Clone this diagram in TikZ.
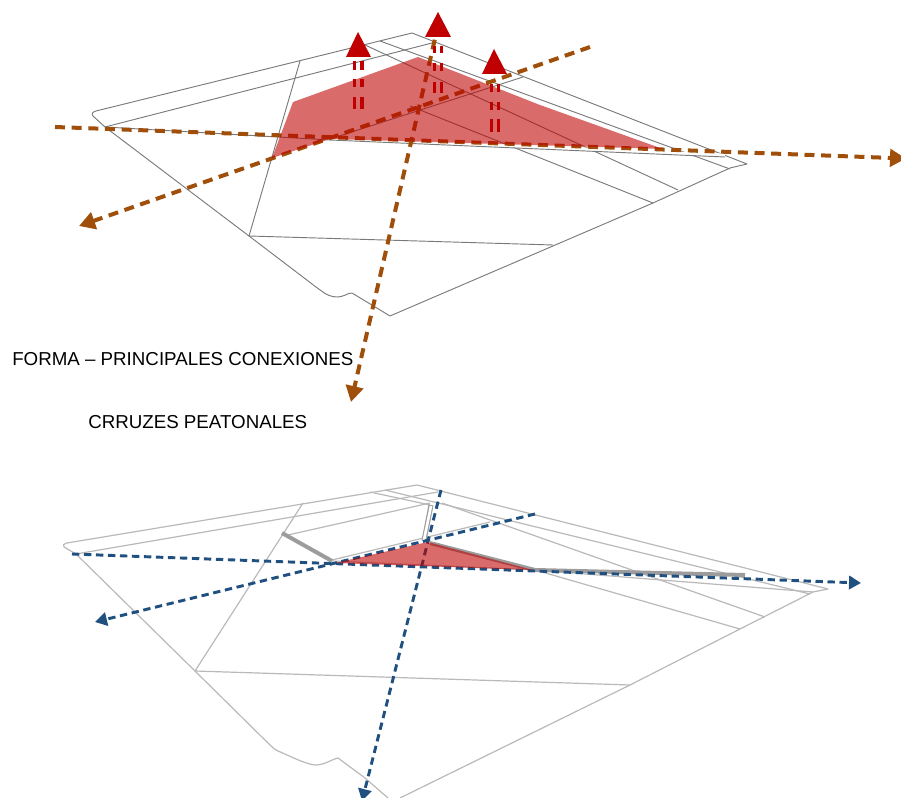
\documentclass[tikz,border=0pt]{standalone}
\usepackage{fontspec}
\setmainfont{Liberation Sans}
\usetikzlibrary{arrows.meta}
\definecolor{brownarrow}{HTML}{A04F0A}
\definecolor{bluearrow}{HTML}{1F5080}
\definecolor{redmark}{HTML}{C00000}
\definecolor{planA}{HTML}{7A7A7A}
\definecolor{planB}{HTML}{B9B9B9}
\definecolor{roadgrey}{HTML}{9C9C9C}
\tikzset{
  planone/.style={draw=planA,line width=0.7pt,line join=round},
  plantwo/.style={draw=planB,line width=0.9pt,line join=round},
  brownflow/.style={draw=brownarrow,line width=3pt,dash pattern=on 7.5pt off 5pt,-{Triangle[length=12pt,width=13pt,fill=brownarrow]}},
  blueflow/.style={draw=bluearrow,line width=2.2pt,dash pattern=on 5.5pt off 3.5pt,-{Triangle[length=9pt,width=10pt,fill=bluearrow]}},
  risedash/.style={draw=redmark,line width=2.7pt},
  risehead/.style={fill=redmark,draw=none},
  redarea/.style={fill=redmark,fill opacity=0.58,draw=none},
  caption/.style={font=\fontsize{14.05pt}{17pt}\selectfont,anchor=west,inner sep=0pt,text=black},
  greyroad/.style={draw=roadgrey,line width=3pt}
}
\begin{document}
\begin{tikzpicture}[x=0.75pt,y=-0.75pt]
\useasboundingbox (0,0) rectangle (901,798);
% ---------- upper plan ----------
\draw[planone] (96,111) -- (412,33) -- (747,164) -- (730,168) -- (653,203) -- (390,316)
  -- (352,293) .. controls (347,293) and (345,297) .. (336,297) .. controls (326,296) and (322,291) .. (316,287)
  -- (249,236) -- (105,127) -- (93,116) .. controls (91,113) and (93,112) .. (96,111) -- cycle;
\draw[planone] (105,127) -- (432,43);
\draw[planone] (380,41) -- (730,169);
\draw[planone] (300,61) -- (249,236) -- (553,245);
\draw[planone] (330,139) -- (523,77);
\draw[planone] (365,45) -- (678,190);
\draw[planone] (410,106) -- (653,203);
\draw[draw=white,line width=2.2pt] (330,138.5) -- (725,155);
\draw[planone] (105,127) -- (330,140) -- (725,157);
% ---------- lower plan ----------
\draw[plantwo] (67,543) -- (417,485) -- (828,589) -- (813,592) -- (740,629) -- (630,685) -- (400,798);
\draw[plantwo] (388,798) -- (365,778) -- (338,758) .. controls (330,760) and (325,765) .. (315,765) .. controls (305,764) and (290,756) .. (278,751)
  .. controls (274,749) and (272,747) .. (270,745) -- (195,671) -- (76,554) -- (64,547) .. controls (62,545) and (64,544) .. (67,543);
\draw[plantwo] (76,554) -- (438,492);
\draw[plantwo] (288,535) -- (430,503);
\draw[plantwo] (332,560) -- (490,522);
\draw[plantwo] (303,503) -- (195,671) -- (630,685);
\draw[plantwo] (370,492) -- (430,505);
\draw[plantwo] (385,490) -- (810,594);
\draw[plantwo] (442,503) -- (765,617);
\draw[plantwo] (535,570) -- (740,629);
\draw[plantwo] (332,561) -- (535,570) -- (813,592);
\draw[greyroad] (282,533) -- (332,561);
\draw[greyroad] (430,543) -- (535,570) -- (745,575);
\draw[draw=roadgrey,line width=3.8pt] (431,505) -- (424,541);
\draw[draw=white,line width=2pt] (431,506) -- (424,540);
% ---------- flow arrows ----------
\coordinate (ua1) at (55,127);   \coordinate (ub1) at (906,158.5);
\coordinate (ua2) at (590,47);   \coordinate (ub2) at (79,226);
\coordinate (ua3) at (437,30);   \coordinate (ub3) at (351,402);
\draw[brownflow] (ua1) -- (ub1);
\draw[brownflow] (ua2) -- (ub2);
\draw[brownflow,dash phase=5pt] (ua3) -- (ub3);
\coordinate (la1) at (72,554);   \coordinate (lb1) at (861,583);
\coordinate (la2) at (535,514);  \coordinate (lb2) at (95,622);
\coordinate (la3) at (441,490);  \coordinate (lb3) at (362,801);
\draw[blueflow] (la1) -- (lb1);
\draw[blueflow] (la2) -- (lb2);
\draw[blueflow] (la3) -- (lb3);
% ---------- red areas, lying over the lines ----------
\fill[redarea] (272,158) -- (293,102) -- (418,57) -- (540,105) -- (663,149) -- (330,139) -- cycle;
\fill[redarea] (335,563) -- (428,542) -- (533,570) -- cycle;
% ---------- rising markers ----------
\fill[risehead] (358,32) -- (371,57) -- (346,57) -- cycle;
\fill[risehead] (438,12) -- (451,37) -- (425,37) -- cycle;
\fill[risehead] (494,49) -- (507,74) -- (482,74) -- cycle;
\foreach \xl/\xr/\ya/\yb/\yc/\yd/\ye/\yf in {
  354.5/362/61/70/79/87/97/109,
  434.5/441.5/46/53/63/71/82/93,
  491.5/498.5/84/92/102/110/119/132}{
  \foreach \xx in {\xl,\xr}{
    \draw[risedash] (\xx,\ya) -- (\xx,\yb);
    \draw[risedash] (\xx,\yc) -- (\xx,\yd);
    \draw[risedash] (\xx,\ye) -- (\xx,\yf);
  }
}
% ---------- captions ----------
\node[caption] (capa) at (12,359) {FORMA – PRINCIPALES CONEXIONES};
\node[caption] (capb) at (88,422) {CRRUZES PEATONALES};
\end{tikzpicture}
\end{document}
